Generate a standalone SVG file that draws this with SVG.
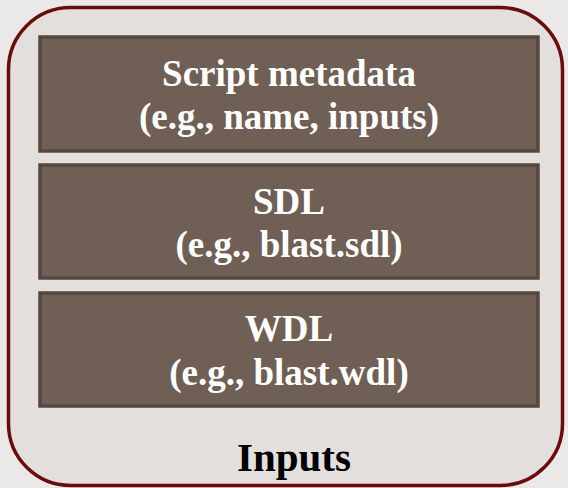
<svg xmlns="http://www.w3.org/2000/svg" width="568" height="488" viewBox="0 0 568 488">
  <style>
    .item { fill: #6f5f55; stroke: #554740; stroke-width: 3.5; }
    .label { font-family: "Liberation Serif", "Times New Roman", serif; font-weight: bold; font-size: 37px; fill: #ffffff; text-anchor: middle; }
    .title { font-family: "Liberation Serif", "Times New Roman", serif; font-weight: bold; font-size: 41px; fill: #000000; text-anchor: middle; }
  </style>
  <rect x="0" y="0" width="568" height="488" fill="#ebe9e8"/>
  <g id="inputs">
    <rect x="8.5" y="7.5" width="554" height="478" rx="62" ry="62" fill="#e3dfdc" stroke="#6a0c0c" stroke-width="3.5"/>
    <text class="title" x="294" y="471">Inputs</text>
  </g>
  <g id="script-metadata">
    <rect class="item" x="40" y="37" width="498" height="114"/>
    <text class="label" x="289" y="86">Script metadata</text>
    <text class="label" x="289" y="129">(e.g., name, inputs)</text>
  </g>
  <g id="sdl">
    <rect class="item" x="40" y="165" width="498" height="113"/>
    <text class="label" x="289" y="214">SDL</text>
    <text class="label" x="289" y="257">(e.g., blast.sdl)</text>
  </g>
  <g id="wdl">
    <rect class="item" x="40" y="293" width="498" height="113"/>
    <text class="label" x="289" y="341">WDL</text>
    <text class="label" x="289" y="385">(e.g., blast.wdl)</text>
  </g>
  <g id="connectors"></g>
</svg>
